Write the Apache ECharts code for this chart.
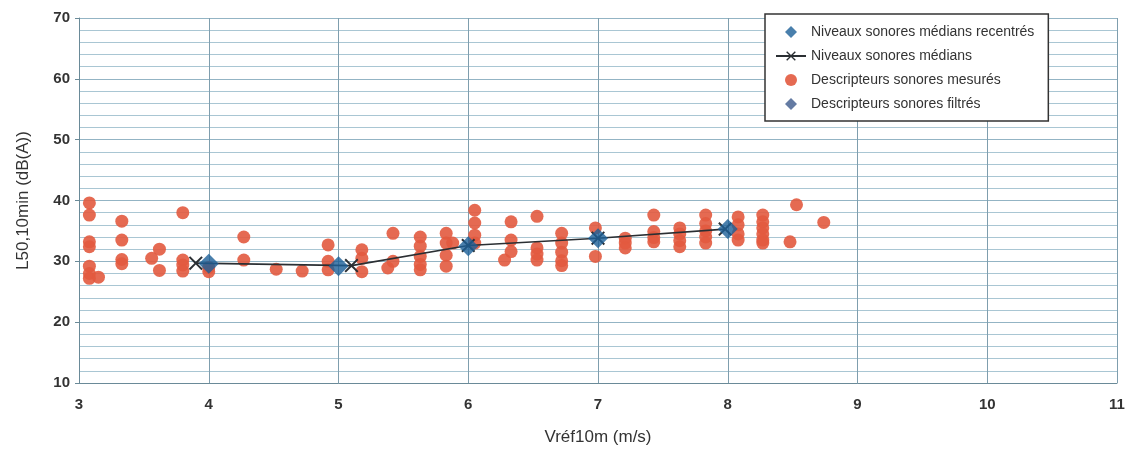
<!DOCTYPE html>
<html>
<head>
<meta charset="utf-8">
<script src="https://cdn.jsdelivr.net/npm/echarts@6/dist/echarts.min.js"></script>
<style>
  html, body { margin: 0; padding: 0; background: #fff; }
  #chart { width: 1134px; height: 459px; }
</style>
</head>
<body>
<div id="chart"></div>
<script>
// mesures brutes (vitesse, niveau)
var vitessesMesurees = [
  3.08, 3.08, 3.08, 3.08, 3.08, 3.08, 3.08, 3.15,
  3.33, 3.33, 3.33, 3.33,
  3.56, 3.62, 3.62,
  3.8, 3.8, 3.8, 3.8,
  4.0, 4.0,
  4.27, 4.27, 4.52, 4.72,
  4.92, 4.92, 4.92,
  5.18, 5.18, 5.18,
  5.42, 5.38, 5.42,
  5.63, 5.63, 5.63, 5.63, 5.63,
  5.83, 5.83, 5.83, 5.83, 5.88,
  6.05, 6.05, 6.05, 6.05,
  6.33, 6.33, 6.33, 6.28,
  6.53, 6.53, 6.53, 6.53,
  6.72, 6.72, 6.72, 6.72, 6.72,
  6.98, 6.98,
  7.21, 7.21, 7.21,
  7.43, 7.43, 7.43, 7.43,
  7.63, 7.63, 7.63, 7.63,
  7.83, 7.83, 7.83, 7.83, 7.83,
  8.08, 8.08, 8.08, 8.08,
  8.27, 8.27, 8.27, 8.27, 8.27, 8.27,
  8.53, 8.74, 8.48
];
var niveauxMesures = [
  39.6, 37.6, 33.2, 32.4, 29.2, 28.0, 27.2, 27.4,
  36.6, 33.5, 30.3, 29.6,
  30.5, 32.0, 28.5,
  38.0, 30.2, 29.4, 28.4,
  28.3, 29.0,
  34.0, 30.2, 28.7, 28.4,
  32.7, 30.0, 28.6,
  31.9, 30.5, 28.3,
  34.6, 28.9, 30.0,
  34.0, 32.5, 30.8, 29.5, 28.6,
  34.6, 33.0, 31.0, 29.2, 33.0,
  38.4, 36.3, 34.3, 33.0,
  36.5, 33.5, 31.6, 30.2,
  37.4, 32.2, 31.2, 30.2,
  34.6, 33.0, 31.5, 30.1, 29.3,
  35.5, 30.8,
  33.8, 33.0, 32.2,
  37.6, 34.9, 33.9, 33.2,
  35.5, 34.5, 33.4, 32.4,
  37.6, 36.2, 35.0, 34.0, 33.0,
  37.3, 36.0, 34.5, 33.5,
  37.6, 36.5, 35.5, 34.5, 33.5, 33.0,
  39.3, 36.4, 33.2
];

// niveaux médians par classe de vent
var vitessesMedianes = [3.9, 5.1, 6.0, 7.0, 7.98];
var niveauxMedians = [29.7, 29.3, 32.6, 33.8, 35.3];

// niveaux médians recentrés sur les vitesses entières
var vitessesRecentrees = [4, 5, 6, 7, 8];
var niveauxRecentres = [29.6, 29.2, 32.5, 33.8, 35.3];

var nomsSeries = [
  "Niveaux sonores médians recentrés",
  "Niveaux sonores médians",
  "Descripteurs sonores mesurés",
  "Descripteurs sonores filtrés"
];

function paires(xs, ys) {
  return xs.map(function (x, i) { return [x, ys[i]]; });
}

var croix = "path://M0,1L1,0L5,4L9,0L10,1L6,5L10,9L9,10L5,6L1,10L0,9L4,5Z";
var losange = "path://M5,0L10,5L5,10L0,5Z";
var police = "Liberation Sans";
var grille = "#a9c6d3";

var option = {
  animation: false,
  backgroundColor: "#ffffff",
  textStyle: { fontFamily: police },
  grid: { left: 79, right: 17, top: 18, bottom: 76 },
  legend: {
    orient: "vertical",
    left: 765,
    top: 14,
    width: 355,
    padding: [11, 14, 10, 10],
    itemGap: 10,
    itemWidth: 30,
    itemHeight: 12,
    backgroundColor: "#ffffff",
    borderColor: "#333333",
    borderWidth: 1.5,
    textStyle: { fontFamily: police, fontSize: 14, color: "#333333" },
    data: [
      { name: nomsSeries[0], icon: losange },
      { name: nomsSeries[1] },
      { name: nomsSeries[2], icon: "circle" },
      { name: nomsSeries[3], icon: losange }
    ]
  },
  xAxis: {
    type: "value",
    min: 3,
    max: 11,
    interval: 1,
    name: "Vréf10m (m/s)",
    nameLocation: "middle",
    nameGap: 46,
    nameTextStyle: { fontSize: 17, color: "#333333", fontFamily: police },
    axisLine: { lineStyle: { color: "#6a8a98", width: 1 } },
    axisTick: { show: false },
    axisLabel: { fontSize: 15, fontWeight: "bold", color: "#333333", margin: 14 },
    splitLine: { show: true, lineStyle: { color: "#7f9eae", width: 1 } }
  },
  yAxis: {
    type: "value",
    min: 10,
    max: 70,
    interval: 10,
    name: "L50,10min (dB(A))",
    nameLocation: "middle",
    nameGap: 47,
    nameTextStyle: { fontSize: 17, color: "#333333", fontFamily: police },
    axisLine: { show: true, lineStyle: { color: "#6a8a98", width: 1 } },
    axisTick: { show: true, length: 4, lineStyle: { color: "#6a8a98" } },
    axisLabel: { fontSize: 15, fontWeight: "bold", color: "#333333", margin: 9 },
    splitLine: { show: true, lineStyle: { color: "#93b4c4", width: 1 } },
    minorTick: { show: false, splitNumber: 5 },
    minorSplitLine: { show: true, lineStyle: { color: grille, width: 1 } }
  },
  series: [
    {
      name: nomsSeries[2],
      type: "scatter",
      symbol: "circle",
      symbolSize: 13,
      itemStyle: { color: "#e25a3f", opacity: 0.9 },
      data: paires(vitessesMesurees, niveauxMesures),
      z: 2
    },
    {
      name: nomsSeries[3],
      type: "scatter",
      symbol: "diamond",
      symbolSize: 12,
      itemStyle: { color: "#3d5a8c" },
      data: [],
      z: 3
    },
    {
      name: nomsSeries[1],
      type: "line",
      symbol: croix,
      symbolSize: 14,
      showSymbol: true,
      lineStyle: { color: "#2b2f33", width: 1.6 },
      itemStyle: { color: "#2b2f33" },
      data: paires(vitessesMedianes, niveauxMedians),
      z: 4
    },
    {
      name: nomsSeries[0],
      type: "scatter",
      symbol: "diamond",
      symbolSize: 20,
      itemStyle: { color: "#1c5f97" },
      data: paires(vitessesRecentrees, niveauxRecentres),
      z: 5
    }
  ]
};

var dom = document.getElementById("chart");
var myChart = echarts.init(dom, null, { renderer: "canvas" });
myChart.setOption(option);
window.addEventListener("resize", myChart.resize);
</script>
</body>
</html>
